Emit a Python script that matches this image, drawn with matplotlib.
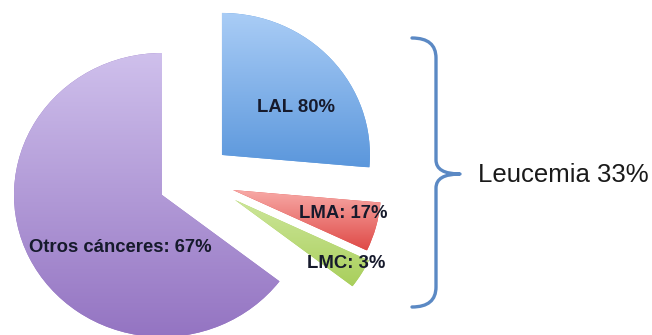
import numpy as np
import matplotlib
matplotlib.use('Agg')
import matplotlib.pyplot as plt
from matplotlib.path import Path
from matplotlib.patches import PathPatch
from matplotlib.colors import LinearSegmentedColormap

# slice shares as drawn in the picture (percent of the whole)
categories = ['LAL', 'LMA', 'LMC', 'Otros cánceres']
shares = [26.4, 5.6, 3.4, 64.6]
labels = ['LAL 80%', 'LMA: 17%', 'LMC: 3%', 'Otros cánceres: 67%']
group_label = 'Leucemia 33%'

# gradient colours (top, bottom) per slice
grads = [('#aacdf6', '#5b97dc'),
         ('#f8aba8', '#df4a47'),
         ('#cde69a', '#a9cf5c'),
         ('#cfc0ec', '#9474c2')]
# where each wedge apex sits (units of radius)
offsets = [(0.405, 0.282), (0.48, 0.035), (0.493, -0.035), (0.0, 0.0)]

plt.rcParams['font.family'] = ['Liberation Sans', 'DejaVu Sans']

fig = plt.figure(figsize=(6.52, 3.35), dpi=100)
fig.patch.set_facecolor('white')

ax = fig.add_axes([0, 0, 1, 1])
ax.axis('off')

wedges, _ = ax.pie(shares, startangle=90, counterclock=False, radius=1.0,
                   wedgeprops=dict(linewidth=0))

for w, off, (c_top, c_bot) in zip(wedges, offsets, grads):
    w.set_center(off)
    w.set_facecolor(c_bot)
    ext = w.get_path().get_extents()
    cmap = LinearSegmentedColormap.from_list('g', [c_bot, c_top])
    grad = np.linspace(0, 1, 256).reshape(-1, 1)
    im = ax.imshow(grad, cmap=cmap, origin='lower', aspect='auto',
                   extent=[ext.x0, ext.x1, ext.y0, ext.y1], zorder=2,
                   interpolation='bilinear')
    im.set_clip_path(w)

# pie is slightly wider than tall in the picture
ax.set_xlim(-162 / 148, (652 - 162) / 148)
ax.set_ylim(-(335 - 195) / 142, 195 / 142)

# overlay in pixel coordinates for brace and text
ov = fig.add_axes([0, 0, 1, 1])
ov.set_xlim(0, 652)
ov.set_ylim(335, 0)
ov.axis('off')
ov.patch.set_alpha(0)

verts = [(412, 38), (436, 38), (436, 58),
         (436, 160),
         (436, 174), (460, 174),
         (436, 174), (436, 188),
         (436, 287),
         (436, 307), (412, 307)]
codes = [Path.MOVETO, Path.CURVE3, Path.CURVE3,
         Path.LINETO,
         Path.CURVE3, Path.CURVE3,
         Path.CURVE3, Path.CURVE3,
         Path.LINETO,
         Path.CURVE3, Path.CURVE3]
ov.add_patch(PathPatch(Path(verts, codes), facecolor='none',
                       edgecolor='#5b89c4', linewidth=2.4,
                       capstyle='round', joinstyle='round'))

ov.text(478, 175, group_label, fontsize=18.5, color='#1a1a1a',
        ha='left', va='center')

txt_color = '#161a2c'
label_pos = [(296, 108), (343, 213), (346, 263), (120, 248)]
for lab, (x, y) in zip(labels, label_pos):
    ov.text(x, y, lab, fontsize=13.3, fontweight='bold', color=txt_color,
            ha='center', va='center')

fig.savefig('out.png', dpi=100, facecolor='white')
